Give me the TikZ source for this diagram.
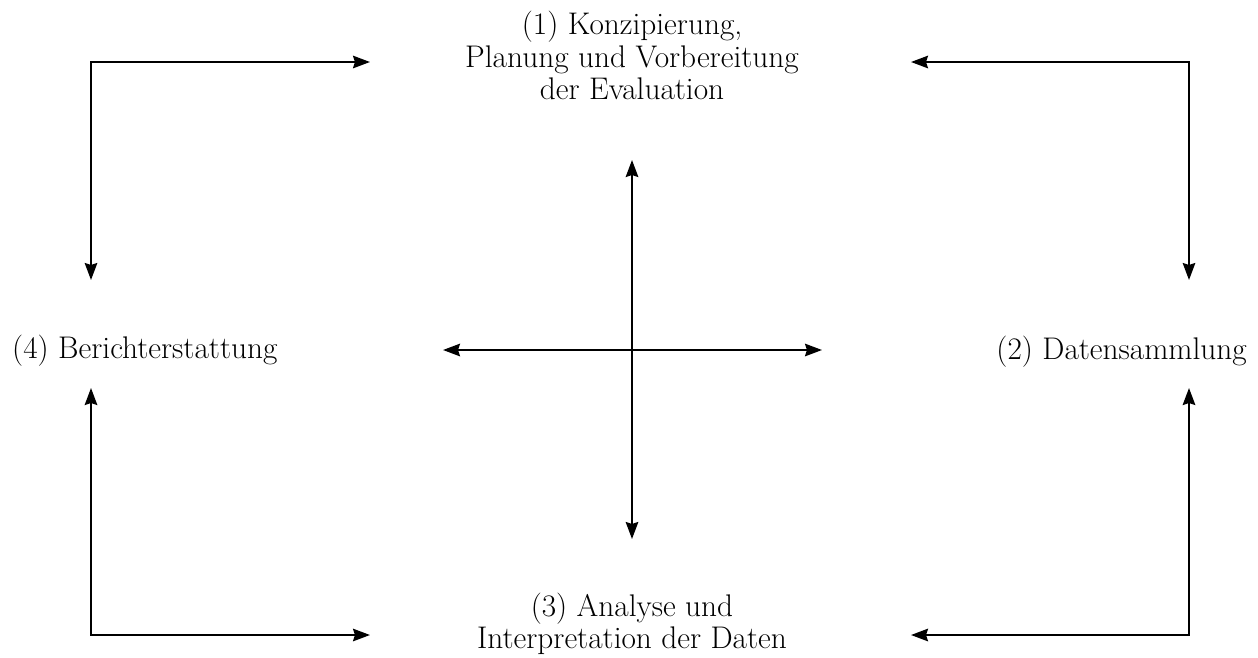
\documentclass[tikz,border=0pt]{standalone}
\usepackage{fontspec}
\usetikzlibrary{arrows.meta}
\begin{document}
\begin{tikzpicture}[x=1pt,y=-1pt,
  lbl/.style={inner sep=0pt,font=\fontsize{31.3}{32.5}\selectfont,align=center},
  arr/.style={line width=2.2pt,{Stealth[length=17pt,width=12.5pt,inset=2pt]}-{Stealth[length=17pt,width=12.5pt,inset=2pt]}}]
\useasboundingbox (0,0) rectangle (1258,657);
\node[lbl] (n1) at (632,55.7) {(1) Konzipierung,\\Planung und Vorbereitung\\der Evaluation};
\node[lbl,anchor=base east] (n2) at (1247,359) {(2) Datensammlung};
\node[lbl] (n3) at (632,623.6) {(3) Analyse und\\Interpretation der Daten};
\node[lbl,anchor=base west] (n4) at (12,358) {(4) Berichterstattung};
% cross
\coordinate (ct) at (632,160);
\coordinate (cb) at (632,539);
\coordinate (cl) at (443,350);
\coordinate (cr) at (822,350);
\draw[arr] (ct) -- (cb);
\draw[arr] (cl) -- (cr);
% corner arrows
\coordinate (tl1) at (91,280);
\coordinate (tl2) at (370,62);
\coordinate (tr1) at (911,62);
\coordinate (tr2) at (1189,280);
\coordinate (bl1) at (91,388);
\coordinate (bl2) at (370,635);
\coordinate (br1) at (911,635);
\coordinate (br2) at (1189,388);
\draw[arr] (tl1) |- (tl2);
\draw[arr] (tr1) -| (tr2);
\draw[arr] (bl1) |- (bl2);
\draw[arr] (br1) -| (br2);
\end{tikzpicture}
\end{document}
